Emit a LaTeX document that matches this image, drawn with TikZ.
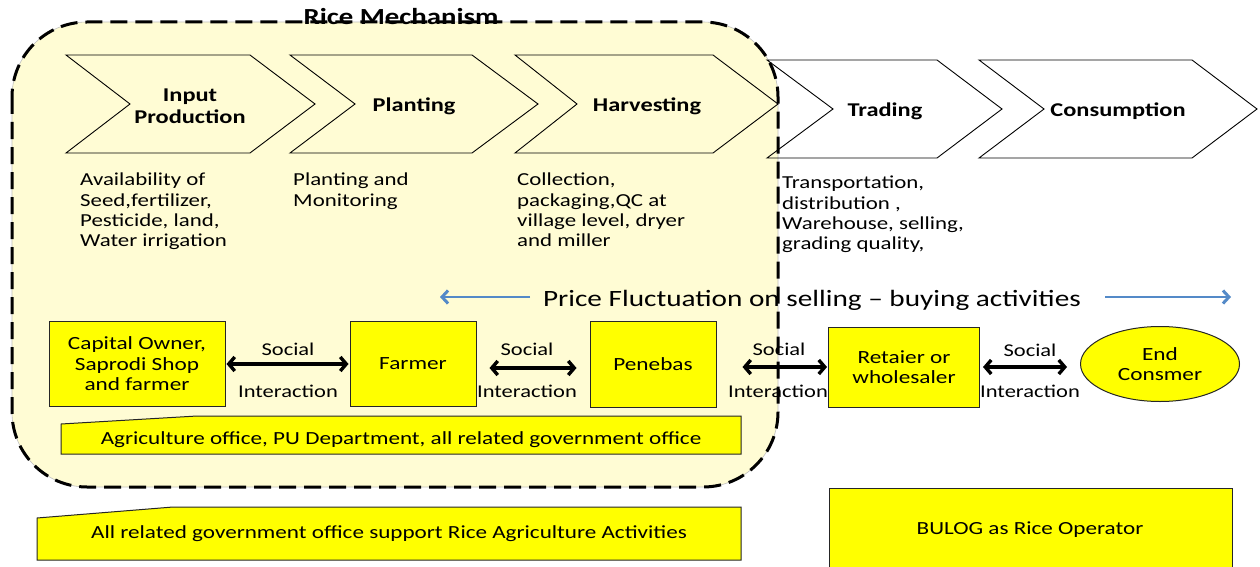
\documentclass[tikz,border=0pt]{standalone}
\usepackage{fontspec}
\setmainfont[FakeStretch=1.25]{Carlito}
\usetikzlibrary{arrows.meta,shapes.geometric}
\definecolor{bgyellow}{RGB}{255,252,212}
\definecolor{boxyellow}{RGB}{255,255,0}
\definecolor{arrblue}{RGB}{84,138,200}
\newcommand{\mychev}[6]{%
  \draw[chevline] (#1,#5) -- (#3,#5) -- (#4,{(#5+#6)/2}) -- (#3,#6) -- (#1,#6) -- (#2,{(#5+#6)/2}) -- cycle;}
\begin{document}
\begin{tikzpicture}[x=1pt,y=-1pt,
  chevline/.style={draw=black,line width=0.9pt},
  chevlabel/.style={font=\fontsize{19.5}{22}\selectfont\bfseries,align=center,inner sep=0pt},
  desc/.style={font=\fontsize{18.3}{20.3}\selectfont,align=left,anchor=north west,inner sep=0pt},
  ybox/.style={draw=black!85,fill=boxyellow,line width=1pt,align=center,inner sep=0pt,
    font=\fontsize{18.6}{20.5}\selectfont},
  dbl/.style={{Straight Barb[length=6pt,width=14pt,line width=3.4pt]}-{Straight Barb[length=6pt,width=14pt,line width=3.4pt]},line width=3.4pt,black},
  blarrow/.style={-{Straight Barb[length=6pt,width=13pt,line width=3pt]},line width=1.6pt,arrblue},
  soc/.style={font=\fontsize{18}{20}\selectfont,inner sep=0pt},
  govtext/.style={font=\fontsize{18.5}{20}\selectfont,inner sep=0pt}
]
\useasboundingbox (0,0) rectangle (1260,567);
\fill[white] (0,0) rectangle (1260,567);
% background of Rice Mechanism
\filldraw[fill=bgyellow,draw=black!25,line width=0.6pt,rounded corners=75pt] (12,22) rectangle (778,487);
% chevrons
\mychev{66}{130}{250}{315}{55}{153}
\mychev{290}{355}{472}{538}{55}{153}
\mychev{515}{577}{713}{778}{55}{153}
\mychev{767}{833}{937}{1002}{60}{158}
\mychev{979}{1044}{1192}{1257}{60}{158}
\node[chevlabel] (inp) at (190,106) {Input\\Production};
\node[chevlabel] (pla) at (414,106) {Planting};
\node[chevlabel] (har) at (647,106) {Harvesting};
\node[chevlabel] (tra) at (885,111) {Trading};
\node[chevlabel] (con) at (1118,111) {Consumption};
% descriptions
\node[desc] (d1) at (80,173) {Availability of\\Seed,fertilizer,\\Pesticide, land,\\Water irrigation};
\node[desc] (d2) at (293,173) {Planting and\\Monitoring};
\node[desc] (d3) at (517,173) {Collection,\\packaging,QC at\\village level, dryer\\and miller};
\node[desc] (d4) at (782,176) {Transportation,\\distribution ,\\Warehouse, selling,\\grading quality,};
% price fluctuation
\node[font=\fontsize{23.4}{25}\selectfont,inner sep=0pt] (price) at (812,300) {Price Fluctuation on selling -- buying activities};
\coordinate (pl1) at (530,297);
\coordinate (pl2) at (440,297);
\coordinate (pr1) at (1105,297);
\coordinate (pr2) at (1231,297);
\draw[blarrow] (pl1) -- (pl2);
\draw[blarrow] (pr1) -- (pr2);
% actors
\node[ybox,minimum width=176pt,minimum height=85pt] (cap) at (137,364) {Capital Owner,\\Saprodi Shop\\and farmer};
\node[ybox,minimum width=126pt,minimum height=85pt] (farm) at (413,364) {Farmer};
\node[ybox,minimum width=126pt,minimum height=86pt] (pen) at (653,364) {Penebas};
\node[ybox,minimum width=151pt,minimum height=80pt] (ret) at (904,367) {Retaier or\\wholesaler};
\node[ybox,ellipse,minimum width=159pt,minimum height=75pt] (ec) at (1160,364) {End\\Consmer};
% government boxes
\filldraw[fill=boxyellow,draw=black!85,line width=1pt] (61,424) -- (197,416) -- (741,416) -- (741,454) -- (61,454) -- cycle;
\node[govtext] (agri) at (401,440) {Agriculture office, PU Department, all related government office};
\filldraw[fill=boxyellow,draw=black!85,line width=1pt] (37,518) -- (173,507) -- (741,507) -- (741,560) -- (37,560) -- cycle;
\node[govtext] (allgov) at (389,534) {All related government office support Rice Agriculture Activities};
\filldraw[fill=boxyellow,draw=black!85,line width=1pt] (829,488) rectangle (1232,575);
\node[govtext] (bulog) at (1030,530) {BULOG as Rice Operator};
% social interaction arrows
\draw[dbl,shorten <=1pt,shorten >=1pt] (cap.east) -- (farm.west);
\draw[dbl,shorten <=13pt,shorten >=13pt] ([yshift=-4pt]farm.east) -- ([yshift=-4pt]pen.west);
\draw[dbl,shorten <=26pt,shorten >=1pt] (pen.east |- ret.west) -- (ret.west);
\draw[dbl,shorten <=3pt,shorten >=13pt] (ret.east) -- (ret.east -| ec.west);
\node[soc] (s1) at (288,349) {Social};
\node[soc] (i1) at (288,391) {Interaction};
\node[soc] (s2) at (527,349) {Social};
\node[soc] (i2) at (527,391) {Interaction};
\node[soc] (s3) at (779,349) {Social};
\node[soc] (i3) at (778,391) {Interaction};
\node[soc] (s4) at (1030,350) {Social};
\node[soc] (i4) at (1030,391) {Interaction};
% dashed border on top
\draw[line width=3pt,dash pattern=on 17pt off 8pt,rounded corners=75pt] (12,22) rectangle (778,487);
\node[font=\fontsize{23}{25}\selectfont\bfseries,inner sep=0pt,anchor=base] (title) at (401,25) {Rice Mechanism};
\end{tikzpicture}
\end{document}
